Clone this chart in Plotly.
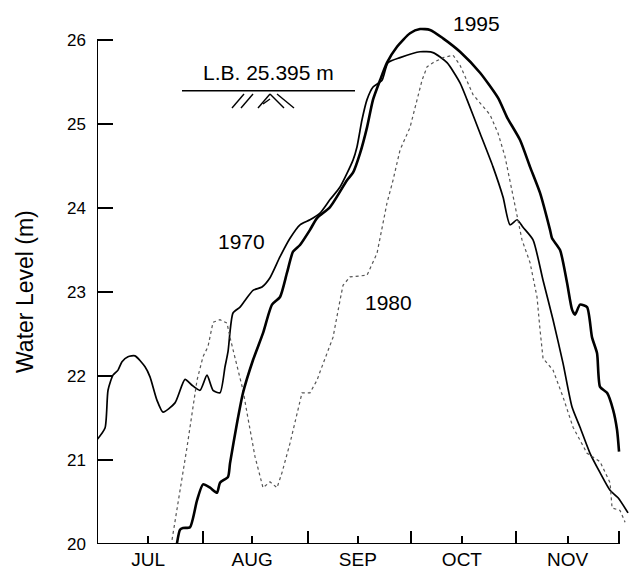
import plotly.graph_objects as go

# ---------------- data (day 0 = 1 July) ----------------
days_1970 = [0, 2.35, 3.23, 4.69, 6.16, 7.33, 9.09, 11.14, 14.08, 15.54, 17.60, 19.35, 22.87,
             25.81, 27.86, 30.21, 32.26, 34.02, 36.07, 37.54, 38.42, 39.88, 41.94, 43.40, 45.75,
             48.39, 50.73, 53.67, 56.60, 59.53, 62.46, 65.40, 68.33, 71.26, 75.07, 76.25, 77.71,
             79.18, 80.94, 83.58, 85.34, 88.86, 94.72, 98.53, 102.64, 106.45, 108.50, 112.32,
             116.13, 119.06, 121.11, 123.17, 124.93, 127.86, 130.79, 133.72, 136.66, 139.30,
             141.64, 144.57, 147.51, 150.44, 152.79, 155.72]
level_1970 = [21.24, 21.38, 21.83, 22.01, 22.07, 22.17, 22.23, 22.24, 22.11, 21.99, 21.71, 21.57,
              21.68, 21.96, 21.89, 21.83, 22.01, 21.83, 21.80, 22.11, 22.29, 22.75, 22.82, 22.90,
              23.02, 23.06, 23.17, 23.42, 23.64, 23.80, 23.86, 23.94, 24.10, 24.25, 24.57, 24.73,
              25.05, 25.29, 25.44, 25.52, 25.73, 25.79, 25.86, 25.85, 25.73, 25.49, 25.29, 24.89,
              24.49, 24.13, 23.80, 23.86, 23.77, 23.62, 23.14, 22.67, 22.15, 21.63, 21.39, 21.08,
              20.85, 20.64, 20.55, 20.37]

days_1980 = [22.0, 26.39, 29.33, 31.09, 32.55, 34.02, 36.07, 38.12, 39.0, 41.06, 42.82, 43.99,
             46.33, 48.68, 50.73, 52.79, 54.25, 56.60, 58.65, 60.12, 62.46, 64.52, 65.40, 68.33,
             69.21, 71.26, 72.14, 74.19, 79.18, 82.11, 85.04, 86.80, 88.86, 91.79, 93.84, 95.31,
             96.77, 98.53, 101.47, 104.40, 106.45, 110.26, 115.25, 117.60, 119.65, 121.70, 123.46,
             124.63, 126.98, 129.03, 129.91, 130.79, 133.72, 136.66, 139.59, 143.70, 147.51,
             150.44, 151.03, 153.37, 154.84]
level_1980 = [20.05, 21.15, 21.95, 22.23, 22.35, 22.64, 22.67, 22.63, 22.46, 22.11, 21.83, 21.56,
              21.04, 20.67, 20.74, 20.67, 20.85, 21.20, 21.56, 21.80, 21.80, 21.95, 22.05, 22.35,
              22.46, 22.90, 23.08, 23.18, 23.20, 23.46, 24.06, 24.33, 24.69, 24.96, 25.29, 25.52,
              25.68, 25.73, 25.79, 25.82, 25.70, 25.35, 25.11, 24.89, 24.61, 24.21, 23.86, 23.62,
              23.35, 22.94, 22.55, 22.21, 22.07, 21.75, 21.39, 21.08, 20.98, 20.73, 20.43, 20.40,
              20.26]

days_1995 = [23.46, 24.34, 25.22, 27.27, 29.33, 31.09, 33.14, 35.19, 36.07, 38.42, 39.0, 41.06,
             42.82, 45.75, 48.68, 51.32, 53.67, 55.72, 57.48, 59.53, 62.46, 64.52, 68.33, 73.31,
             75.07, 77.13, 79.18, 80.94, 82.99, 85.04, 87.98, 91.79, 94.72, 97.65, 101.47, 106.45,
             112.32, 117.60, 120.23, 124.05, 126.98, 129.91, 132.84, 133.43, 135.78, 137.83,
             139.30, 140.18, 141.64, 143.70, 145.16, 146.63, 147.51, 149.56, 151.32, 152.49, 153.08]
level_1995 = [20.01, 20.17, 20.19, 20.20, 20.52, 20.71, 20.67, 20.61, 20.73, 20.80, 20.96, 21.44,
              21.80, 22.19, 22.51, 22.85, 22.94, 23.23, 23.48, 23.56, 23.74, 23.88, 24.01, 24.33,
              24.42, 24.65, 24.96, 25.29, 25.52, 25.73, 25.92, 26.08, 26.13, 26.12, 26.02, 25.86,
              25.61, 25.31, 25.08, 24.81, 24.49, 24.18, 23.74, 23.64, 23.50, 23.11, 22.79, 22.73,
              22.85, 22.82, 22.46, 22.27, 21.87, 21.80, 21.60, 21.36, 21.10]

month_labels = ["JUL", "AUG", "SEP", "OCT", "NOV"]
month_mid_days = [15, 45.5, 76.5, 107, 138]
month_start_days = [31, 62, 92, 123, 153]
y_ticks = [20, 21, 22, 23, 24, 25, 26]
lb_level = 25.395
lb_text = "L.B. 25.395 m"

# ---------------- layout geometry ----------------
L, T, R, B = 97, 2, 0, 27
W, H = 629, 571
PW, PH = W - L - R, H - T - B
X0, X1 = 0, 156
Y0 = 20
Y1 = Y0 + PH / 84.0


def px2x(px):
    return X0 + (px - L) / PW * (X1 - X0)


def py2y(py):
    return Y1 - (py - T) / PH * (Y1 - Y0)


FONT = "Liberation Sans, Arial, Helvetica, sans-serif"

fig = go.Figure()
fig.add_trace(go.Scatter(x=days_1970, y=level_1970, mode="lines", name="1970",
                         line=dict(color="black", width=1.7, shape="spline", smoothing=0.6)))
fig.add_trace(go.Scatter(x=days_1980, y=level_1980, mode="lines", name="1980",
                         line=dict(color="#555555", width=1.2, dash="dot")))
fig.add_trace(go.Scatter(x=days_1995, y=level_1995, mode="lines", name="1995",
                         line=dict(color="black", width=2.6, shape="spline", smoothing=0.6)))

shapes = []
# axis lines
shapes.append(dict(type="line", x0=0, x1=0, y0=20, y1=26, xref="x", yref="y",
                   line=dict(color="black", width=2)))
shapes.append(dict(type="line", x0=0, x1=month_start_days[-1], y0=20, y1=20, xref="x", yref="y",
                   line=dict(color="black", width=2)))
# L.B. line
shapes.append(dict(type="line", x0=px2x(182), x1=px2x(355), y0=lb_level, y1=lb_level,
                   xref="x", yref="y", line=dict(color="black", width=1.6)))
# ground hatch symbol (pixel-defined decoration)
hatch = [((232, 108), (244, 94)), ((241, 108), (253, 94)),
         ((258, 108), (270, 94)), ((270, 94), (284, 108)),
         ((263, 104), (270, 99)), ((277, 94), (294, 108))]
for (xa, ya), (xb, yb) in hatch:
    shapes.append(dict(type="line", x0=px2x(xa), y0=py2y(ya), x1=px2x(xb), y1=py2y(yb),
                       xref="x", yref="y", line=dict(color="black", width=1.4)))

annotations = [
    dict(x=111.4, y=26.20, text="1995", showarrow=False, xref="x", yref="y",
         font=dict(size=21, color="black", family=FONT)),
    dict(x=42.5, y=23.60, text="1970", showarrow=False, xref="x", yref="y",
         font=dict(size=21, color="black", family=FONT)),
    dict(x=85.6, y=22.88, text="1980", showarrow=False, xref="x", yref="y",
         font=dict(size=21, color="black", family=FONT)),
    dict(x=px2x(268), y=py2y(72), text=lb_text, showarrow=False, xref="x", yref="y",
         font=dict(size=21, color="black", family=FONT)),
    dict(x=(25 - L) / PW, y=(H - B - 292) / PH, text="Water Level (m)", textangle=-90,
         showarrow=False, xref="paper", yref="paper", xanchor="center", yanchor="middle",
         font=dict(size=23, color="black", family=FONT)),
]

fig.update_layout(
    width=W, height=H,
    margin=dict(l=L, r=R, t=T, b=B, pad=0),
    paper_bgcolor="white", plot_bgcolor="white",
    showlegend=False,
    shapes=shapes, annotations=annotations,
    font=dict(family=FONT, color="black"),
    xaxis=dict(range=[X0, X1], showgrid=False, zeroline=False, showline=False,
               tickmode="array", tickvals=month_mid_days, ticktext=month_labels,
               ticks="inside", ticklen=8, tickwidth=1.5, tickcolor="black",
               tickfont=dict(size=19, family=FONT, color="black"),
               ticklabelstandoff=2,
               minor=dict(tickmode="array", tickvals=month_start_days, ticks="inside",
                          ticklen=13, tickwidth=1.5, tickcolor="black", showgrid=False)),
    yaxis=dict(range=[Y0, Y1], showgrid=False, zeroline=False, showline=False,
               tickmode="array", tickvals=y_ticks, ticktext=[str(v) for v in y_ticks],
               ticks="inside", ticklen=16, tickwidth=1.5, tickcolor="black",
               tickfont=dict(size=17, family=FONT, color="black"),
               ticklabelstandoff=10),
)

fig.write_html("out.html", config={"displayModeBar": False},
               post_script="document.body.style.margin='0px';document.body.style.overflow='hidden';")
